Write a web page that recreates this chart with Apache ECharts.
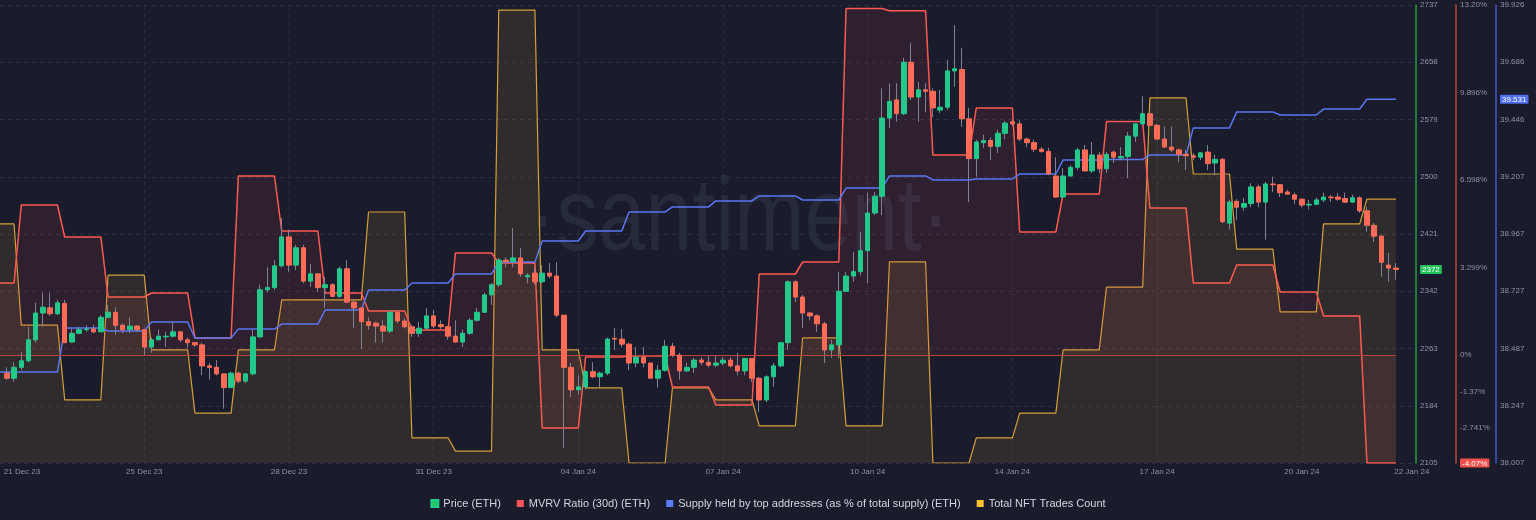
<!DOCTYPE html>
<html>
<head>
<meta charset="utf-8">
<script src="https://cdn.jsdelivr.net/npm/echarts@6/dist/echarts.min.js"></script>
<style>
html,body{margin:0;padding:0;background:#1a1b2b;}
#chart{width:1536px;height:520px;}
</style>
</head>
<body>
<div id="chart"></div>
<script>
// ---- 4h ETH candles ----
const open = [2229,2222,2237,2246,2275,2312,2319,2311,2325,2272,2284,2289,2290,2286,2306,2313,2295,2289,2294,2289,
2265,2275,2279,2280,2286,2275,2271,2268,2239,2237,2228,2209,2229,2218,2228,2279,2344,2347,2377,2417,
2378,2402,2356,2366,2347,2351,2335,2373,2327,2319,2300,2298,2294,2287,2313,2301,2293,2284,2291,2308,
2296,2293,2280,2272,2284,2302,2313,2337,2351,2385,2383,2388,2362,2367,2355,2367,2363,2309,2237,2206,
2210,2231,2224,2229,2277,2276,2269,2243,2251,2243,2222,2233,2266,2254,2232,2237,2247,2244,2240,2243,
2247,2239,2232,2249,2222,2192,2224,2239,2271,2355,2334,2312,2308,2297,2261,2268,2342,2363,2369,2398,
2450,2473,2581,2606,2587,2658,2610,2620,2618,2592,2596,2646,2648,2580,2525,2547,2550,2542,2560,2576,
2573,2552,2547,2538,2535,2501,2472,2501,2513,2537,2508,2530,2511,2534,2526,2528,2556,2573,2587,2571,
2552,2541,2537,2531,2529,2527,2534,2519,2524,2436,2466,2458,2463,2486,2465,2490,2489,2479,2475,2469,
2461,2462,2468,2472,2472,2470,2465,2471,2453,2433,2418,2378,2374];
const close = [2222,2237,2246,2275,2312,2320,2311,2326,2271,2284,2289,2290,2286,2306,2313,2295,2289,2294,2289,2265,
2275,2280,2280,2286,2275,2271,2268,2239,2237,2228,2209,2229,2218,2228,2279,2344,2347,2377,2417,2378,
2402,2356,2366,2347,2351,2335,2373,2327,2319,2300,2295,2294,2287,2313,2301,2293,2284,2291,2308,2294,
2293,2280,2272,2284,2302,2313,2337,2351,2385,2383,2388,2366,2364,2355,2367,2363,2309,2237,2206,2210,
2231,2224,2229,2276,2276,2269,2243,2251,2243,2222,2233,2266,2254,2232,2237,2247,2244,2240,2243,2247,
2239,2232,2249,2222,2192,2224,2239,2271,2355,2334,2312,2308,2297,2261,2268,2342,2363,2369,2398,2450,
2473,2581,2604,2587,2658,2610,2620,2618,2595,2596,2646,2649,2580,2525,2548,2550,2542,2560,2574,2573,
2552,2547,2538,2535,2504,2472,2501,2513,2537,2508,2530,2511,2531,2527,2528,2556,2573,2587,2571,2552,
2541,2537,2531,2529,2527,2533,2518,2524,2438,2465,2458,2463,2486,2465,2490,2489,2478,2476,2469,2461,
2462,2468,2472,2471,2469,2465,2471,2453,2433,2418,2382,2374,2372];
const low = [2220,2217,2233,2244,2271,2293,2308,2309,2271,2271,2283,2286,2284,2286,2305,2282,2284,2284,2286,2254,
2257,2275,2265,2278,2272,2264,2265,2226,2220,2226,2180,2209,2215,2215,2226,2278,2340,2344,2375,2369,
2371,2353,2348,2341,2319,2334,2333,2326,2291,2262,2289,2271,2271,2284,2298,2291,2279,2279,2289,2291,
2290,2275,2271,2265,2282,2300,2312,2323,2348,2375,2375,2362,2353,2351,2353,2360,2306,2126,2196,2199,
2206,2222,2209,2226,2261,2265,2233,2237,2237,2222,2209,2231,2251,2220,2231,2229,2240,2237,2237,2240,
2237,2226,2226,2217,2175,2189,2210,2237,2261,2327,2291,2302,2286,2243,2250,2250,2341,2355,2364,2353,
2447,2447,2567,2576,2585,2606,2576,2589,2582,2588,2592,2624,2569,2465,2500,2540,2523,2533,2552,2570,
2549,2541,2534,2533,2502,2471,2471,2500,2509,2507,2505,2505,2505,2519,2523,2498,2548,2569,2569,2551,
2540,2534,2520,2509,2523,2523,2509,2502,2436,2427,2440,2453,2458,2458,2413,2479,2472,2475,2462,2458,
2455,2461,2465,2465,2467,2464,2464,2450,2424,2410,2362,2355,2358];
const high = [2237,2244,2258,2293,2326,2340,2340,2330,2330,2291,2293,2295,2295,2309,2323,2320,2298,2306,2295,2289,
2278,2289,2286,2300,2286,2278,2272,2271,2243,2247,2228,2231,2231,2229,2289,2351,2375,2385,2443,2427,
2406,2406,2380,2366,2362,2353,2376,2385,2330,2319,2306,2300,2302,2316,2316,2305,2295,2300,2319,2316,
2302,2294,2302,2289,2305,2319,2340,2353,2388,2389,2429,2402,2367,2375,2378,2381,2382,2309,2243,2226,
2233,2244,2231,2278,2291,2290,2271,2265,2265,2243,2240,2275,2271,2257,2243,2250,2251,2254,2254,2251,
2251,2257,2250,2250,2224,2226,2243,2272,2357,2357,2337,2313,2310,2300,2275,2369,2369,2396,2424,2478,
2479,2622,2629,2629,2664,2685,2631,2629,2622,2620,2661,2709,2678,2595,2551,2558,2554,2565,2577,2578,
2578,2554,2551,2541,2540,2527,2512,2516,2540,2544,2548,2534,2534,2536,2541,2562,2574,2611,2588,2573,
2569,2569,2539,2537,2533,2534,2544,2530,2526,2468,2469,2471,2491,2489,2493,2500,2490,2482,2478,2470,
2468,2471,2478,2475,2478,2478,2475,2473,2458,2436,2420,2395,2381];

// ---- daily series (day 0 and day 32 are partial days) ----
const mvrvDaily = [2.717,5.659,4.452,2.190,2.340,0.644,6.752,4.678,2.340,1.662,0.945,3.849,3.472,-2.750,-0.073,-0.035,
-1.204,-1.883,3.057,3.509,13.068,12.985,7.544,9.316,4.640,6.073,8.807,5.545,2.717,3.396,2.378,1.473,-4.07];
const supplyDaily = [38.388,38.388,38.573,38.560,38.598,38.531,38.568,38.589,38.648,38.732,38.761,38.799,38.849,38.937,
38.979,39.059,39.080,39.105,39.126,39.109,39.159,39.210,39.193,39.197,39.218,39.277,39.279,39.298,39.411,39.478,39.465,39.490,39.531];
const nftDaily = [52.2,30.1,13.8,41.0,24.7,10.9,24.7,35.6,35.6,54.8,5.5,2.6,98.9,24.7,16.4,0,16.4,13.8,8.1,27.3,8.1,
43.9,0,5.5,10.9,24.7,38.4,79.7,63.1,46.7,33.0,52.2,57.6];

// ---- tick labels ----
const priceTicks = [2105,2184,2263,2342,2421,2500,2579,2658,2737];
const mvrvTicks = [-4.07,-2.741,-1.37,0,3.299,6.598,9.896,13.2];
const mvrvTickLabels = ['-4.07%','-2.741%','-1.37%','0%','3.299%','6.598%','9.896%','13.20%'];
const supplyTicks = [38.007,38.247,38.487,38.727,38.967,39.207,39.446,39.686,39.926];
const dateLabels = ['21 Dec 23','25 Dec 23','28 Dec 23','31 Dec 23','04 Jan 24','07 Jan 24','10 Jan 24','14 Jan 24','17 Jan 24','20 Jan 24','22 Jan 24'];
const dateLabelAt = [2.1,19,39,59,79,99,119,139,159,179,194.2];   // candle index of each label
const dateGridAt = [19,39,59,79,99,119,139,159,179];

// ---- build library data ----
const N = close.length;
const X_MIN = -0.94, X_MAX = 194.78;
const dayOf = i => (i < 2 ? 0 : Math.floor((i - 2) / 6) + 1);
const wickData = [], bodyData = [], mvrvData = [], supplyData = [], nftData = [];
// the daily series begin at the left edge with the first day's value
mvrvData.push([X_MIN, mvrvDaily[0]]);
supplyData.push([X_MIN, supplyDaily[0]]);
nftData.push([X_MIN, nftDaily[0]]);
for (let i = 0; i < N; i++) {
  wickData.push([i, open[i], close[i], low[i], high[i]]);
  bodyData.push([i, open[i], close[i], Math.min(open[i], close[i]), Math.max(open[i], close[i])]);
  const d = dayOf(i);
  mvrvData.push([i, mvrvDaily[d]]);
  supplyData.push([i, supplyDaily[d]]);
  nftData.push([i, nftDaily[d]]);
}
const lastClose = close[N - 1];
const lastMvrv = mvrvDaily[mvrvDaily.length - 1];
const lastSupply = supplyDaily[supplyDaily.length - 1];

const FONT = 'Liberation Sans';
const LBL = '#8f93a6';
const GRID = '#2b2e42';
const badge = bg => ({backgroundColor: bg, color: '#ffffff', padding: [1, 2, 0, 2], fontSize: 8, lineHeight: 9, borderRadius: 1, fontFamily: FONT});

const chart = echarts.init(document.getElementById('chart'), null, {renderer: 'canvas'});
chart.setOption({
  backgroundColor: '#1a1b2b',
  animation: false,
  graphic: [{
    type: 'text', x: 739, y: 221, scaleX: 0.81, z: 0, silent: true,
    style: {text: '·santiment·', font: '104px "Liberation Sans"', fill: '#262a3d', textAlign: 'center', textVerticalAlign: 'middle'}
  }],
  grid: {left: 0, right: 120, top: 5, bottom: 57, containLabel: false},
  legend: {
    top: 493, left: 'center', icon: 'rect', itemWidth: 7, itemHeight: 7, itemGap: 16,
    textStyle: {color: '#d4d6df', fontSize: 11, fontFamily: FONT},
    data: [
      {name: 'Price (ETH)', itemStyle: {color: '#22c55e'}},
      {name: 'MVRV Ratio (30d) (ETH)', itemStyle: {color: '#ff5757'}},
      {name: 'Supply held by top addresses (as % of total supply) (ETH)', itemStyle: {color: '#5c7cfa'}},
      {name: 'Total NFT Trades Count', itemStyle: {color: '#ffc034'}}
    ]
  },
  xAxis: {
    type: 'value', min: X_MIN, max: X_MAX,
    axisLine: {show: false, onZero: false},
    axisTick: {show: false, customValues: dateGridAt},
    splitLine: {show: true, lineStyle: {color: GRID, type: [4, 4], width: 1}},
    axisLabel: {
      customValues: dateLabelAt, color: LBL, fontSize: 8, fontFamily: FONT, margin: 5,
      formatter: v => { const k = dateLabelAt.indexOf(v); return k >= 0 ? dateLabels[k] : ''; }
    }
  },
  yAxis: [
    { // price
      type: 'value', position: 'right', offset: 0, min: 2105, max: 2737,
      axisLine: {show: true, onZero: false, lineStyle: {color: '#2e9a4a', width: 1.5}},
      axisTick: {show: false, customValues: priceTicks},
      splitLine: {show: true, lineStyle: {color: GRID, type: [4, 4], width: 1}},
      axisLabel: {
        customValues: priceTicks.concat([lastClose]), color: LBL, fontSize: 8, fontFamily: FONT, margin: 4,
        formatter: v => (v === lastClose ? '{b|' + v + '}' : String(v)),
        rich: {b: badge('#22c35a')}
      }
    },
    { // MVRV
      type: 'value', position: 'right', offset: 40, min: -4.07, max: 13.2,
      axisLine: {show: true, onZero: false, lineStyle: {color: '#b84444', width: 1.5}},
      axisTick: {show: false, customValues: mvrvTicks},
      splitLine: {show: false},
      axisLabel: {
        customValues: mvrvTicks, color: LBL, fontSize: 8, fontFamily: FONT, margin: 4,
        formatter: v => { const t = mvrvTickLabels[mvrvTicks.indexOf(v)]; return v === lastMvrv ? '{b|' + t + '}' : t; },
        rich: {b: badge('#f0504a')}
      }
    },
    { // supply
      type: 'value', position: 'right', offset: 80, min: 38.007, max: 39.926,
      axisLine: {show: true, onZero: false, lineStyle: {color: '#4457c4', width: 1.5}},
      axisTick: {show: false, customValues: supplyTicks},
      splitLine: {show: false},
      axisLabel: {
        customValues: supplyTicks.concat([lastSupply]), color: LBL, fontSize: 8, fontFamily: FONT, margin: 4,
        formatter: v => (v === lastSupply ? '{b|' + v.toFixed(3) + '}' : v.toFixed(3)),
        rich: {b: badge('#4f6ef2')}
      }
    },
    { // NFT trades (hidden scale)
      type: 'value', show: false, min: 0, max: 100
    }
  ],
  series: [
    {
      name: 'Total NFT Trades Count', type: 'line', yAxisIndex: 3, data: nftData, z: 1,
      symbol: 'none', lineStyle: {color: '#d2a13a', width: 1.2},
      itemStyle: {color: '#ffc034'},
      areaStyle: {color: 'rgba(255,200,70,0.14)', origin: 'start'}
    },
    {
      name: 'MVRV Ratio (30d) (ETH)', type: 'line', yAxisIndex: 1, data: mvrvData, z: 2,
      symbol: 'none', lineStyle: {color: '#ff5a52', width: 1.5},
      itemStyle: {color: '#ff5757'},
      areaStyle: {color: 'rgba(255,90,90,0.13)'},
      markLine: {
        silent: true, symbol: 'none', label: {show: false},
        emphasis: {disabled: true},
        lineStyle: {color: '#b8443b', width: 1, type: 'solid', opacity: 1},
        data: [[{coord: [X_MIN, 0]}, {coord: [N - 1, 0]}]]
      }
    },
    {
      name: 'Supply held by top addresses (as % of total supply) (ETH)', type: 'line', yAxisIndex: 2, data: supplyData, z: 3,
      symbol: 'none', lineStyle: {color: '#5a76f2', width: 1.5}, itemStyle: {color: '#5c7cfa'}
    },
    {
      name: 'wick', type: 'candlestick', yAxisIndex: 0, data: wickData, z: 4, barWidth: 1,
      encode: {x: 0, y: [1, 2, 3, 4]},
      itemStyle: {color: '#7d8296', color0: '#7d8296', borderColor: '#7d8296', borderColor0: '#7d8296', borderWidth: 1}
    },
    {
      name: 'Price (ETH)', type: 'candlestick', yAxisIndex: 0, data: bodyData, z: 5, barWidth: 5,
      encode: {x: 0, y: [1, 2, 3, 4]},
      itemStyle: {color: '#22c98b', color0: '#ff6b57', borderColor: '#22c98b', borderColor0: '#ff6b57', borderWidth: 1}
    }
  ]
});
</script>
</body>
</html>
